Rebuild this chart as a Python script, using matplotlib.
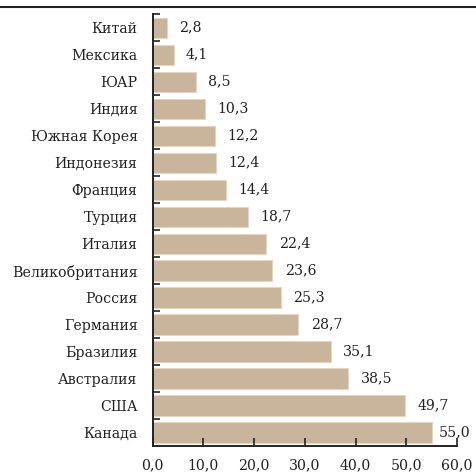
import matplotlib
matplotlib.use("Agg")
import matplotlib.pyplot as plt
from matplotlib.lines import Line2D

countries = ["Китай", "Мексика", "ЮАР", "Индия", "Южная Корея", "Индонезия", "Франция",
             "Турция", "Италия", "Великобритания", "Россия", "Германия", "Бразилия",
             "Австралия", "США", "Канада"]
values = [2.8, 4.1, 8.5, 10.3, 12.2, 12.4, 14.4, 18.7, 22.4, 23.6, 25.3, 28.7, 35.1,
          38.5, 49.7, 55.0]
xticks = [0, 10, 20, 30, 40, 50, 60]

plt.rcParams['font.family'] = ['DejaVu Serif']
FS = 10.2
fig = plt.figure(figsize=(4.76, 4.74), dpi=100)
ax = fig.add_axes([0.321, 0.059, 0.639, 0.911])

y = list(range(len(countries)))
ax.barh(y, values, height=0.75, color="#c8b59b", edgecolor="#e3d6c4", linewidth=0.8)
for yi, v in zip(y, values):
    off = 9 if v < 52 else 5
    ax.annotate(f"{v:.1f}".replace(".", ","), xy=(v, yi), xytext=(off, 0),
                textcoords="offset points", va="center", ha="left",
                fontsize=FS, color="#222222")

ax.set_xlim(0, 60)
ax.set_ylim(len(countries) - 0.5, -0.5)
ax.set_xticks(xticks)
ax.set_xticklabels([f"{t:.1f}".replace(".", ",") for t in xticks], fontsize=FS, color="#222222")
ax.set_yticks(y)
ax.set_yticklabels(countries, fontsize=FS, color="#222222")
ax.tick_params(axis="y", which="major", length=0, pad=11)
ax.set_yticks([i - 0.5 for i in range(len(countries))], minor=True)
ax.tick_params(axis="y", which="minor", direction="in", length=5, width=1.2, color="#222222")
ax.tick_params(axis="x", direction="in", length=6, width=1.2, color="#222222", pad=9)
for s in ["top", "right"]:
    ax.spines[s].set_visible(False)
for s in ["left", "bottom"]:
    ax.spines[s].set_linewidth(1.4)
    ax.spines[s].set_color("#222222")

fig.add_artist(Line2D([0, 1], [1 - 7 / 474, 1 - 7 / 474], color="#222222", linewidth=1.5))

fig.savefig("out.png", dpi=100)
